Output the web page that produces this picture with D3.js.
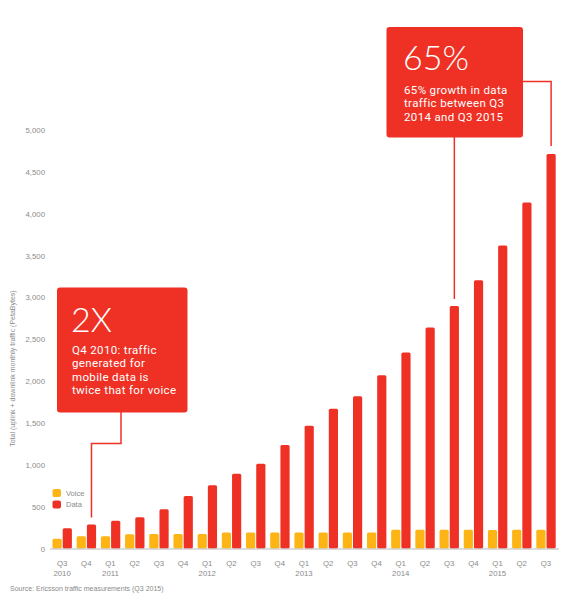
<!DOCTYPE html>
<html>
<head>
<meta charset="utf-8">
<script src="https://cdn.jsdelivr.net/npm/d3@7"></script>
<style>
  body { margin: 0; background: #fff; }
  svg { display: block; font-family: "Liberation Sans", Arial, sans-serif; }
  .tick text { fill: #8a8a8a; font-size: 7.8px; }
  .boxText { fill: #fff; font-family: Roboto, sans-serif; font-weight: 400; font-size: 11.5px; letter-spacing: 0.35px; }
  .bigText { fill: #fff; font-family: Lato, sans-serif; font-weight: 300; font-size: 34px; }
</style>
</head>
<body>
<svg id="chart" width="579" height="600"></svg>
<script>
// quarters and the year shown under some of them
const quarters = ["Q3","Q4","Q1","Q2","Q3","Q4","Q1","Q2","Q3","Q4","Q1","Q2","Q3","Q4","Q1","Q2","Q3","Q4","Q1","Q2","Q3"];
const years = ["2010","","2011","","","","2012","","","","2013","","","","2014","","","","2015","",""];
// monthly traffic, PetaBytes
const voice = [116,147,147,171,172,172,172,191,191,191,191,191,191,191,224,224,224,224,222,224,224];
const data = [243,287,331,374,470,626,757,893,1013,1236,1468,1671,1818,2069,2341,2640,2898,3206,3621,4135,4713];
const yTicks = [0,500,1000,1500,2000,2500,3000,3500,4000,4500,5000];
const series = ["Voice","Data"];
const colors = {Voice: "#fdb515", Data: "#ee3124"};

const svg = d3.select("#chart");
const idx = d3.range(quarters.length);

const x = d3.scaleBand().domain(idx).range([50, 558]);
const xInner = d3.scaleBand().domain(series).range([-9.6, 9.8]).paddingInner(0.1);
const y = d3.scaleLinear().domain([0, 5000]).range([548.5, 130]);

// y axis (labels only)
const yAxis = svg.append("g")
  .attr("transform", "translate(45,0)")
  .call(d3.axisLeft(y).tickValues(yTicks).tickSize(0).tickPadding(0).tickFormat(d3.format(",")));
yAxis.select(".domain").remove();
yAxis.selectAll("text").attr("dy", "0.32em");

svg.append("text")
  .attr("transform", "translate(15," + y(2150) + ") rotate(-90)")
  .attr("text-anchor", "middle")
  .attr("fill", "#8a8a8a")
  .style("font-size", "7px")
  .text("Total (uplink + downlink monthly traffic (PetaBytes)");

// bars
const groups = svg.append("g").selectAll("g")
  .data(idx)
  .join("g")
  .attr("transform", i => "translate(" + (x(i) + x.bandwidth() / 2) + ",0)");

groups.append("rect")
  .attr("x", xInner("Voice"))
  .attr("width", xInner.bandwidth())
  .attr("y", i => y(voice[i]))
  .attr("height", i => y(0) - y(voice[i]))
  .attr("rx", 1.5)
  .attr("fill", colors.Voice);

groups.append("rect")
  .attr("x", xInner("Data"))
  .attr("width", xInner.bandwidth())
  .attr("y", i => y(data[i]))
  .attr("height", i => y(0) - y(data[i]))
  .attr("rx", 1.5)
  .attr("fill", colors.Data);

// baseline
svg.append("line")
  .attr("x1", 50).attr("x2", 559)
  .attr("y1", y(0) + 0.5).attr("y2", y(0) + 0.5)
  .attr("stroke", "#b8b8b8").attr("stroke-width", 1);

// x labels
const xl = svg.append("g").attr("fill", "#8a8a8a").style("font-size", "7.8px").attr("text-anchor", "middle");
xl.selectAll(".q").data(idx).join("text")
  .attr("x", i => x(i) + x.bandwidth() / 2)
  .attr("y", 566)
  .text(i => quarters[i]);
xl.selectAll(".yr").data(idx.filter(i => years[i])).join("text")
  .attr("x", i => x(i) + x.bandwidth() / 2)
  .attr("y", 576)
  .text(i => years[i]);

// legend
const legend = svg.append("g").attr("transform", "translate(52.5,489)");
series.forEach((s, k) => {
  legend.append("rect")
    .attr("x", 0).attr("y", k * 11.5)
    .attr("width", 8.5).attr("height", 8)
    .attr("rx", 2)
    .attr("fill", colors[s]);
  legend.append("text")
    .attr("x", 13.5).attr("y", k * 11.5 + 6.5)
    .attr("fill", "#8a8a8a")
    .style("font-size", "7.5px")
    .text(s);
});

// source
svg.append("text")
  .attr("x", 10).attr("y", 591)
  .attr("fill", "#8a8a8a")
  .style("font-size", "7px")
  .text("Source: Ericsson traffic measurements (Q3 2015)");

// callout: 2X
const c1x = x(1) + x.bandwidth() / 2 + xInner("Data") + xInner.bandwidth() / 2;
svg.append("path")
  .attr("d", "M121,412 V443.5 H" + c1x + " V" + (y(data[1]) - 7))
  .attr("fill", "none").attr("stroke", colors.Data).attr("stroke-width", 1.5);
svg.append("rect")
  .attr("x", 57).attr("y", 287.5).attr("width", 130.5).attr("height", 125)
  .attr("rx", 3).attr("fill", colors.Data);
svg.append("text").attr("class", "bigText").attr("x", 71).attr("y", 332).text("2X");
["Q4 2010: traffic", "generated for", "mobile data is", "twice that for voice"].forEach((t, k) => {
  svg.append("text").attr("class", "boxText").attr("x", 72).attr("y", 354 + k * 13.4).text(t);
});

// callout: 65%
const c2x = x(16) + x.bandwidth() / 2 + xInner("Data") + xInner.bandwidth() / 2;
const c3x = x(20) + x.bandwidth() / 2 + xInner("Data") + xInner.bandwidth() / 2;
svg.append("path")
  .attr("d", "M" + c2x + ",136 V" + (y(data[16]) - 7))
  .attr("fill", "none").attr("stroke", colors.Data).attr("stroke-width", 1.5);
svg.append("path")
  .attr("d", "M522,81.5 H" + c3x + " V" + (y(data[20]) - 8))
  .attr("fill", "none").attr("stroke", colors.Data).attr("stroke-width", 1.5);
svg.append("rect")
  .attr("x", 386.5).attr("y", 27).attr("width", 136.5).attr("height", 110.5)
  .attr("rx", 3).attr("fill", colors.Data);
svg.append("text").attr("class", "bigText").attr("x", 403).attr("y", 70).text("65%");
["65% growth in data", "traffic between Q3", "2014 and Q3 2015"].forEach((t, k) => {
  svg.append("text").attr("class", "boxText").attr("x", 404).attr("y", 94 + k * 13.4).text(t);
});
</script>
</body>
</html>
